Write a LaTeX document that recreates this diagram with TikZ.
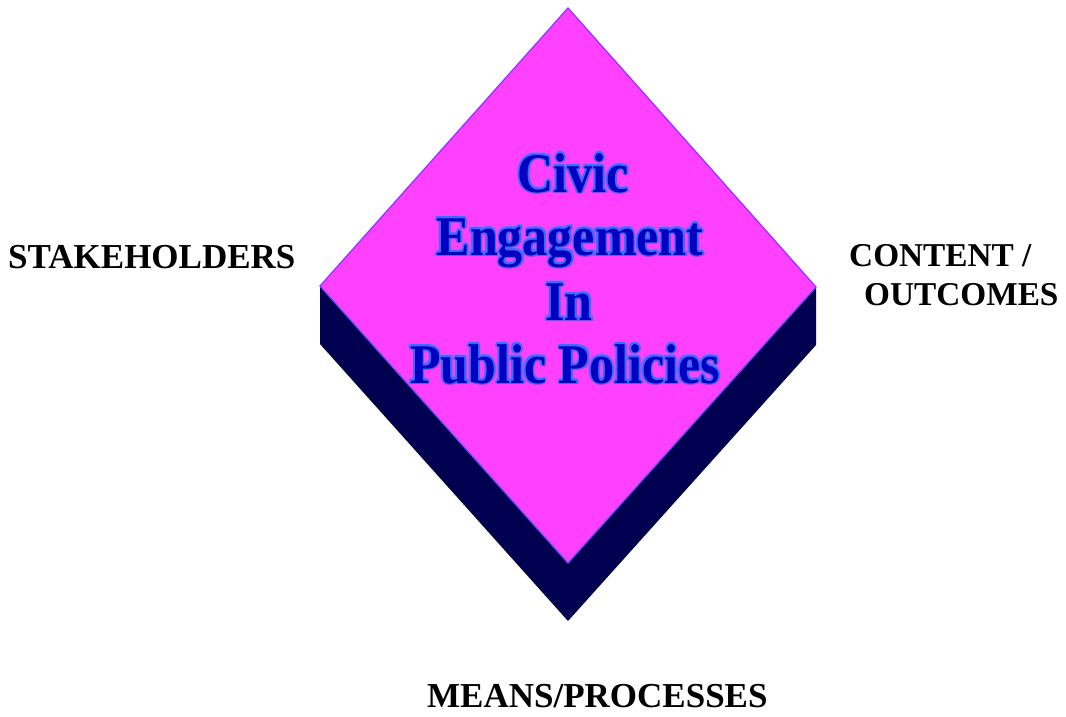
\documentclass[tikz,border=0pt]{standalone}
\usepackage{fontspec}
\setmainfont{Liberation Serif}
\definecolor{magentafill}{HTML}{FF40FF}
\definecolor{violetedge}{HTML}{8040FF}
\definecolor{navyshadow}{HTML}{000050}
\definecolor{darkblue}{HTML}{0000C0}
\definecolor{lightblue}{HTML}{3A6AFF}
\newcommand{\tallword}[1]{\scalebox{1}[1.12]{#1}}
\tikzset{
  label/.style={font=\fontsize{35}{40}\selectfont\bfseries, anchor=base west, inner sep=0pt, text=black},
  rlabel/.style={font=\fontsize{33.3}{40}\selectfont\bfseries, anchor=base west, inner sep=0pt, text=black},
  titleglow/.style={font=\fontsize{50}{60}\selectfont\bfseries, anchor=base, inner sep=0pt, text=lightblue},
  titletext/.style={font=\fontsize{50}{60}\selectfont\bfseries, anchor=base, inner sep=0pt, text=darkblue},
}
\begin{document}
\begin{tikzpicture}[x=1pt,y=-1pt]
\useasboundingbox (0,0) rectangle (1066,716);
% shadow (extrusion)
\fill[navyshadow] (320,286) -- (320,344) -- (568,621) -- (816,345) -- (816,287) -- (568,563) -- cycle;
% diamond face
\draw[fill=magentafill, draw=violetedge, line width=1.3pt, line join=miter]
  (568,8) coordinate (top) -- (816,287) coordinate (right) -- (568,563) coordinate (bottom) -- (320,286) coordinate (left) -- cycle;
% title with light outline
\foreach \dx/\dy in {-1.8/0,1.8/0,0/-1.8,0/1.8,-1.3/-1.3,1.3/1.3,-1.3/1.3,1.3/-1.3} {
  \node[titleglow] at (573+\dx,192+\dy) {\tallword{Civic}};
  \node[titleglow] at (570+\dx,255+\dy) {\tallword{Engagement}};
  \node[titleglow] at (569+\dx,320+\dy) {\tallword{In}};
  \node[titleglow] at (565+\dx,383+\dy) {\tallword{Public Policies}};
}
\node[titletext] (t1) at (573,192) {\tallword{Civic}};
\node[titletext] (t2) at (570,255) {\tallword{Engagement}};
\node[titletext] (t3) at (569,320) {\tallword{In}};
\node[titletext] (t4) at (565,383) {\tallword{Public Policies}};
% side labels
\node[label] (stake) at (8,268) {STAKEHOLDERS};
\node[rlabel] (content) at (849,266) {CONTENT /};
\node[rlabel] (outcomes) at (864,305) {OUTCOMES};
\node[label] (means) at (427,707) {MEANS/PROCESSES};
\end{tikzpicture}
\end{document}
